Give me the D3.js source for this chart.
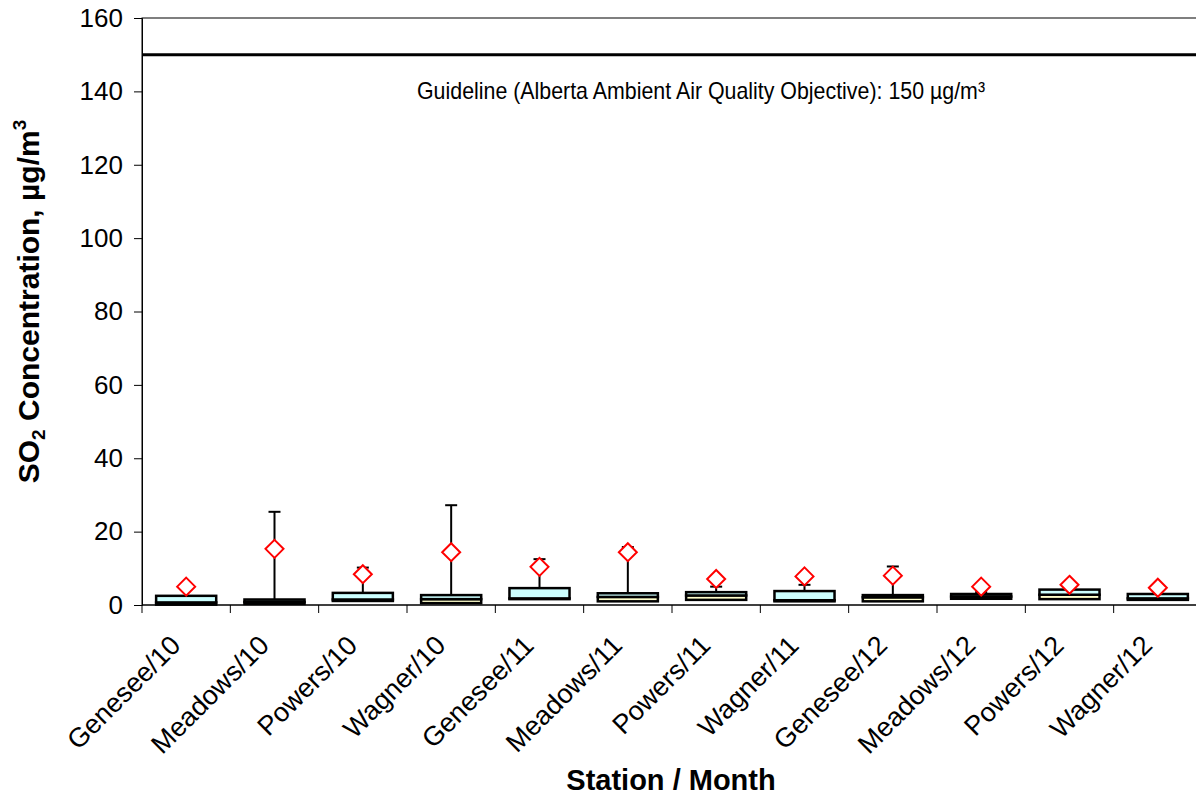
<!DOCTYPE html>
<html>
<head>
<meta charset="utf-8">
<script src="https://cdn.jsdelivr.net/npm/d3@7"></script>
<style>
  html, body { margin: 0; padding: 0; background: #fff; }
  svg { display: block; font-family: Arial, "Liberation Sans", sans-serif; }
</style>
</head>
<body>
<svg id="chart" width="1196" height="798"></svg>
<script>
// ---- data ----
const categories = ["Genesee/10","Meadows/10","Powers/10","Wagner/10","Genesee/11","Meadows/11","Powers/11","Wagner/11","Genesee/12","Meadows/12","Powers/12","Wagner/12"];
const minVals    = [0.0, 0.2, 1.0, 0.4, 1.5, 0.9, 1.3, 0.9, 0.9, 1.6, 1.5, 1.3];
const q1Vals     = [0.1, 0.3, 1.1, 0.5, 1.6, 1.0, 1.4, 1.0, 1.0, 1.7, 1.6, 1.4];
const medianVals = [0.7, 0.8, 1.5, 1.6, 1.8, 2.2, 2.6, 1.3, 2.1, 2.3, 2.8, 1.8];
const q3Vals     = [2.5, 1.5, 3.3, 2.7, 4.6, 3.2, 3.5, 3.8, 2.7, 3.0, 4.2, 3.0];
const maxVals    = [4.5, 25.4, 10.2, 27.2, 12.5, 15.8, 5.0, 5.5, 10.5, 3.5, 5.0, 4.0];
const meanVals   = [5.0, 15.3, 8.4, 14.4, 10.4, 14.4, 7.1, 7.8, 8.0, 5.0, 5.5, 4.7];
const yTicks     = [0, 20, 40, 60, 80, 100, 120, 140, 160];
const guidelineValue = 150;
const guidelineLabel = "Guideline (Alberta Ambient Air Quality Objective): 150 \u00B5g/m\u00B3";

// ---- layout ----
const svg = d3.select("#chart");
const mLeft = 142, mTop = 18, mRight = 1202, mBottom = 605;

const x = d3.scaleBand().domain(categories).range([mLeft, mRight]).paddingInner(0).paddingOuter(0);
const y = d3.scaleLinear().domain([0, 160]).range([mBottom, mTop]);

const rows = categories.map((c, i) => ({
  c, min: minVals[i], q1: q1Vals[i], med: medianVals[i], q3: q3Vals[i], max: maxVals[i], mean: meanVals[i]
}));

// plot frame
svg.append("rect").attr("x", mLeft).attr("y", mTop).attr("width", mRight - mLeft).attr("height", mBottom - mTop)
  .attr("fill", "none").attr("stroke", "#000").attr("stroke-width", 1);

// y axis
const yAxis = svg.append("g").attr("transform", `translate(${mLeft},0)`)
  .call(d3.axisLeft(y).tickValues(yTicks).tickSize(8).tickPadding(11));
yAxis.select(".domain").attr("stroke", "#000");
yAxis.selectAll(".tick line").attr("stroke", "#000");
yAxis.selectAll(".tick text").attr("font-size", 26).attr("fill", "#000")
  .attr("font-family", "Arial, 'Liberation Sans', sans-serif");

// x axis: ticks at band boundaries
const boundaries = categories.map(c => x(c)).concat([mRight]);
const xAxisG = svg.append("g");
xAxisG.append("line").attr("x1", mLeft).attr("x2", mRight).attr("y1", mBottom).attr("y2", mBottom).attr("stroke", "#000");
xAxisG.selectAll("line.tk").data(boundaries).join("line").attr("class", "tk")
  .attr("x1", d => d).attr("x2", d => d).attr("y1", mBottom).attr("y2", mBottom + 8)
  .attr("stroke", "#000");
xAxisG.selectAll("text").data(categories).join("text")
  .attr("transform", d => `translate(${x(d) + x.bandwidth() / 2 - 4},${mBottom + 42}) rotate(-45)`)
  .attr("text-anchor", "end")
  .attr("font-size", 27)
  .attr("fill", "#000")
  .text(d => d);

// guideline
svg.append("line").attr("x1", mLeft).attr("x2", mRight)
  .attr("y1", y(guidelineValue)).attr("y2", y(guidelineValue))
  .attr("stroke", "#000").attr("stroke-width", 3);
svg.append("text")
  .attr("x", 701).attr("y", y(guidelineValue) + 44)
  .attr("text-anchor", "middle")
  .attr("font-family", "'Liberation Sans Narrow', 'Arial Narrow', Arial, sans-serif")
  .attr("font-size", 24)
  .attr("textLength", 568).attr("lengthAdjust", "spacingAndGlyphs")
  .attr("fill", "#000")
  .text(guidelineLabel);

// boxes
const boxW = x.bandwidth() * 0.68;
const g = svg.append("g");
const cx = d => x(d.c) + x.bandwidth() / 2;

// whiskers
g.selectAll("line.wup").data(rows).join("line").attr("class", "wup")
  .attr("x1", cx).attr("x2", cx).attr("y1", d => y(d.q3)).attr("y2", d => y(d.max))
  .attr("stroke", "#000").attr("stroke-width", 2);
g.selectAll("line.cap").data(rows).join("line").attr("class", "cap")
  .attr("x1", d => cx(d) - 6).attr("x2", d => cx(d) + 6).attr("y1", d => y(d.max)).attr("y2", d => y(d.max))
  .attr("stroke", "#000").attr("stroke-width", 2);
g.selectAll("line.wdn").data(rows).join("line").attr("class", "wdn")
  .attr("x1", cx).attr("x2", cx).attr("y1", d => y(d.q1)).attr("y2", d => y(d.min))
  .attr("stroke", "#000").attr("stroke-width", 2);

// lower box (q1-median)
g.selectAll("rect.lo").data(rows).join("rect").attr("class", "lo")
  .attr("x", d => cx(d) - boxW / 2).attr("width", boxW)
  .attr("y", d => y(d.med)).attr("height", d => y(d.q1) - y(d.med))
  .attr("fill", "#FFFFCC").attr("stroke", "#000").attr("stroke-width", 2.5);
// upper box (median-q3)
g.selectAll("rect.hi").data(rows).join("rect").attr("class", "hi")
  .attr("x", d => cx(d) - boxW / 2).attr("width", boxW)
  .attr("y", d => y(d.q3)).attr("height", d => y(d.med) - y(d.q3))
  .attr("fill", "#CCFFFF").attr("stroke", "#000").attr("stroke-width", 2.5);

// mean diamonds
const ds = 9;
g.selectAll("path.mean").data(rows).join("path").attr("class", "mean")
  .attr("d", d => {
    const px = cx(d), py = y(d.mean);
    return `M${px},${py - ds}L${px + ds},${py}L${px},${py + ds}L${px - ds},${py}Z`;
  })
  .attr("fill", "#fff").attr("stroke", "#FF0000").attr("stroke-width", 2);

// axis titles
svg.append("text")
  .attr("x", 671).attr("y", 790)
  .attr("text-anchor", "middle").attr("font-weight", "bold").attr("font-size", 29)
  .attr("fill", "#000")
  .text("Station / Month");

const yt = svg.append("text")
  .attr("transform", `translate(39,${(113 + 490) / 2}) rotate(-90)`)
  .attr("text-anchor", "middle").attr("font-weight", "bold").attr("font-size", 30)
  .attr("fill", "#000");
yt.append("tspan").text("SO");
yt.append("tspan").attr("font-size", 19).attr("dy", 6).text("2");
yt.append("tspan").attr("dy", -6).text(" Concentration, \u00B5g/m");
yt.append("tspan").attr("font-size", 19).attr("dy", -13).text("3");
</script>
</body>
</html>
